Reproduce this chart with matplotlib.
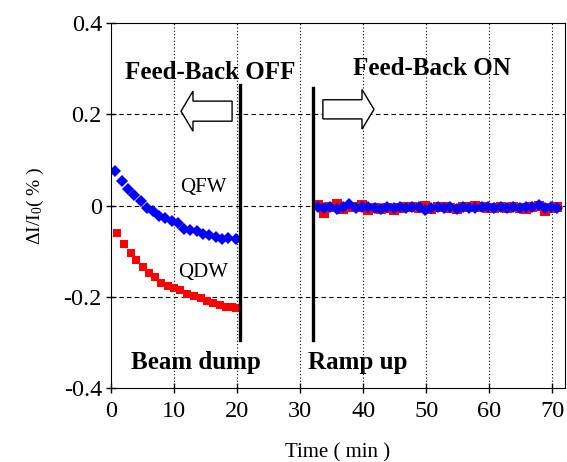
import matplotlib
matplotlib.use("Agg")
import matplotlib.pyplot as plt
from matplotlib.patches import FancyArrow

# feedback OFF (beam dump side)
t_off = [0.7, 1.7, 2.7, 3.7, 4.7, 5.7, 6.6, 7.6, 8.6, 9.6,
         10.6, 11.6, 12.6, 13.6, 14.6, 15.6, 16.6, 17.6, 18.5, 19.9]
qfw_off = [0.076, 0.054, 0.036, 0.023, 0.010, -0.006, -0.012, -0.022, -0.027, -0.033,
           -0.038, -0.051, -0.054, -0.056, -0.063, -0.065, -0.068, -0.074, -0.072, -0.074]
t_off_d = [1.0, 2.0, 3.1, 4.0, 5.0, 6.0, 6.9, 8.0, 9.1, 10.0,
           11.0, 12.1, 13.1, 14.2, 15.2, 16.2, 17.3, 18.3, 19.2, 19.9]
qdw_off = [-0.060, -0.085, -0.103, -0.119, -0.135, -0.147, -0.156, -0.170, -0.176, -0.181,
           -0.185, -0.193, -0.198, -0.203, -0.209, -0.213, -0.218, -0.222, -0.223, -0.225]

# feedback ON (after ramp up)
t_on = [32.8, 33.8, 34.8, 35.8, 36.8, 37.8, 38.8, 39.8, 40.8, 41.8,
        42.8, 43.8, 44.8, 45.8, 46.8, 47.8, 48.8, 49.8, 50.8, 51.8,
        52.8, 53.8, 54.8, 55.8, 56.8, 57.8, 58.8, 59.8, 60.8, 61.8,
        62.8, 63.8, 64.8, 65.8, 66.8, 67.8, 68.8, 69.8, 70.8]
qfw_on = [-0.002, -0.006, -0.004, -0.008, -0.003, 0.004, -0.006, -0.004, -0.002, -0.005,
          -0.008, -0.004, -0.006, -0.003, -0.005, -0.002, -0.004, -0.009, -0.006, -0.003,
          -0.005, -0.004, -0.007, -0.002, -0.005, -0.006, -0.004, -0.003, -0.006, -0.004,
          -0.005, -0.002, -0.006, -0.004, -0.003, 0.002, -0.005, -0.004, -0.006]
qdw_on = [0.002, -0.016, -0.004, 0.003, -0.008, -0.004, -0.003, 0.001, -0.010, -0.006,
          -0.008, -0.005, -0.009, -0.006, -0.003, -0.002, -0.005, -0.001, -0.008, -0.004,
          -0.003, -0.006, -0.008, -0.002, -0.004, -0.001, -0.002, -0.006, -0.005, -0.004,
          -0.006, -0.003, -0.005, -0.007, -0.004, -0.001, -0.012, -0.006, -0.002]

xticks = [0, 10, 20, 30, 40, 50, 60, 70]
yticks = [-0.4, -0.2, 0, 0.2, 0.4]
ytick_labels = ["-0.4", "-0.2", "0", "0.2", "0.4"]

plt.rcParams["font.family"] = ["Liberation Serif", "DejaVu Serif"]

fig = plt.figure(figsize=(5.67, 4.62), dpi=100)
ax = fig.add_axes([0.1958, 0.160, 0.8007, 0.790])

ax.plot(t_off_d, qdw_off, "s", color="red", ms=6, mew=0)
ax.plot(t_off, qfw_off, "D", color="blue", ms=6, mew=0)
ax.plot(t_on, qdw_on, "s", color="red", ms=6.5, mew=0)
ax.plot(t_on, qfw_on, "D", color="blue", ms=6.5, mew=0)

# boundaries of the beam dump / ramp up
ax.plot([20.4, 20.4], [-0.295, 0.264], color="black", lw=2.4)
ax.plot([32.0, 32.0], [-0.295, 0.257], color="black", lw=2.4)

ax.add_patch(FancyArrow(19.2, 0.207, -8.1, 0, width=0.044, head_width=0.088,
                        head_length=1.9, length_includes_head=True,
                        fc="white", ec="black", lw=1.0, zorder=3))
ax.add_patch(FancyArrow(33.6, 0.211, 8.1, 0, width=0.042, head_width=0.087,
                        head_length=1.9, length_includes_head=True,
                        fc="white", ec="black", lw=1.0, zorder=3))

ax.text(15.7, 0.292, "Feed-Back OFF", fontsize=18, fontweight="bold", ha="center", va="center")
ax.text(50.9, 0.300, "Feed-Back ON", fontsize=18, fontweight="bold", ha="center", va="center")
ax.text(13.5, -0.343, "Beam dump", fontsize=18, fontweight="bold", ha="center", va="center")
ax.text(39.1, -0.343, "Ramp up", fontsize=18, fontweight="bold", ha="center", va="center")
ax.text(14.6, 0.040, "QFW", fontsize=15, ha="center", va="center")
ax.text(14.6, -0.146, "QDW", fontsize=15, ha="center", va="center")

ax.set_xlim(0, 72)
ax.set_ylim(-0.4, 0.4)
ax.set_xticks(xticks)
ax.set_yticks(yticks)
ax.set_yticklabels(ytick_labels)
ax.tick_params(direction="inout", length=7, width=1, labelsize=17.5)
ax.tick_params(axis="x", pad=6)
ax.tick_params(axis="y", pad=3)

for x in xticks[1:]:
    ax.axvline(x, color="black", lw=0.8, ls=(0, (1, 2)), zorder=0)
for y in [-0.2, 0, 0.2]:
    ax.axhline(y, color="black", lw=0.8, ls=(0, (4, 3)), zorder=0)

ax.set_xlabel("Time ( min )", fontsize=15, labelpad=15)
ax.set_ylabel(r"$\mathregular{\Delta I/I_0}$( % )", fontsize=14, labelpad=13)

fig.savefig("out.png", dpi=100)
